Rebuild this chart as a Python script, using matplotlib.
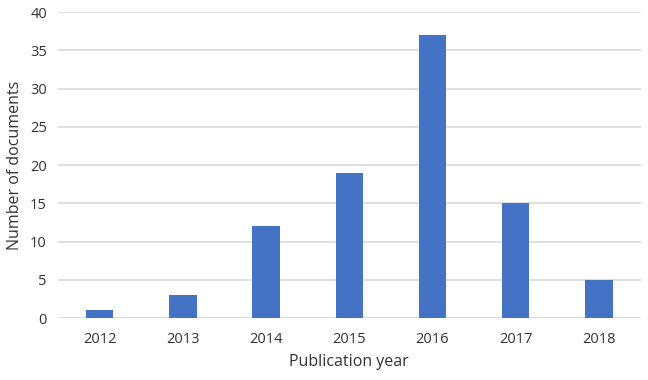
import matplotlib
matplotlib.use("Agg")
from matplotlib import pyplot as plt
import numpy as np

years = ["2012", "2013", "2014", "2015", "2016", "2017", "2018"]
docs = [1, 3, 12, 19, 37, 15, 5]
y_ticks = [0, 5, 10, 15, 20, 25, 30, 35, 40]

plt.rcParams['font.family'] = ['Open Sans', 'DejaVu Sans']

fig = plt.figure(figsize=(6.48, 3.8), dpi=100)
ax = fig.add_axes([0.0895, 0.163, 0.899, 0.805])

x = np.arange(len(years))
ax.bar(x, docs, width=0.33, color="#4472C4", zorder=3)

ax.set_xlim(-0.5, len(years) - 0.5)
ax.set_ylim(0, 40)
ax.set_yticks(y_ticks)
ax.set_xticks(x)
ax.set_xticklabels(years)
ax.yaxis.grid(True, color="#D9D9D9", linewidth=1.2, zorder=0)
for s in ax.spines.values():
    s.set_visible(False)
ax.tick_params(axis="both", length=0, labelsize=10.5, colors="#333333", pad=8)
ax.tick_params(axis="x", pad=10)
ax.axhline(0, color="#D9D9D9", linewidth=1.2, zorder=2)

ax.set_xlabel("Publication year", fontsize=11.5, color="#333333", labelpad=5)
ax.set_ylabel("Number of documents", fontsize=11.5, color="#333333", labelpad=5)

fig.savefig("out.png", dpi=100)
